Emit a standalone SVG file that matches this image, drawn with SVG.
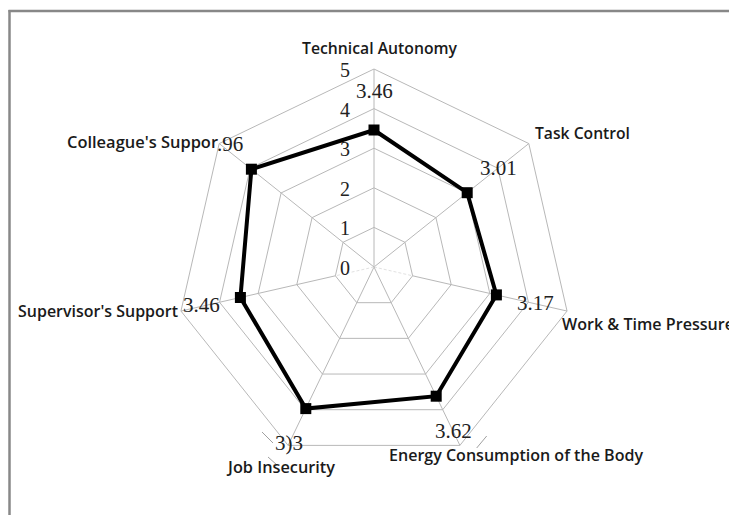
<svg xmlns="http://www.w3.org/2000/svg" width="729" height="515" viewBox="0 0 729 515">
<style>
.grid{fill:none;stroke:#b8b8b8;stroke-width:1}
.spoke{stroke:#b8b8b8;stroke-width:1}
.faint{stroke:#e2e2e2;stroke-width:1;stroke-dasharray:3 2}
.art{stroke:#a0a0a0;stroke-width:1}
.axis{font-family:"Liberation Serif","Times New Roman",serif;font-size:20px;fill:#222;text-anchor:end}
.val{font-family:"Liberation Serif","Times New Roman",serif;font-size:21px;fill:#222}
.cat{font-family:"Open Sans","Noto Sans","DejaVu Sans",sans-serif;font-size:15.5px;font-weight:600;fill:#1a1a1a}
.series{fill:none;stroke:#000;stroke-width:4;stroke-linejoin:miter}
.mk{fill:#000}
</style>
<rect width="729" height="515" fill="#fff"/>
<g id="frame" stroke="#888" stroke-width="2.5">
<line x1="8.5" y1="11" x2="729" y2="11"/>
<line x1="9.5" y1="10" x2="9.5" y2="515"/>
</g>
<g id="grid">
<polygon class="grid" points="374,69 528.8,143.55 567.04,311.06 459.91,445.39 288.09,445.39 180.96,311.06 219.2,143.55"/>
<polygon class="grid" points="374,108.6 497.84,168.24 528.43,302.25 442.73,409.71 305.27,409.71 219.57,302.25 250.16,168.24"/>
<polygon class="grid" points="374,148.2 466.88,192.93 489.82,293.44 425.55,374.04 322.45,374.04 258.18,293.44 281.12,192.93"/>
<polygon class="grid" points="374,187.8 435.92,217.62 451.21,284.62 408.36,338.36 339.64,338.36 296.79,284.62 312.08,217.62"/>
<polygon class="grid" points="374,227.4 404.96,242.31 412.61,275.81 391.18,302.68 356.82,302.68 335.39,275.81 343.04,242.31"/>
<line class="spoke" x1="374" y1="267" x2="374" y2="69"/>
<line class="spoke" x1="374" y1="267" x2="528.8" y2="143.55"/>
<line class="faint" x1="374" y1="267" x2="412.61" y2="275.81"/>
<line class="spoke" x1="412.61" y1="275.81" x2="567.04" y2="311.06"/>
<line class="spoke" x1="374" y1="267" x2="459.91" y2="445.39"/>
<line class="spoke" x1="374" y1="267" x2="288.09" y2="445.39"/>
<line class="faint" x1="374" y1="267" x2="335.39" y2="275.81"/>
<line class="spoke" x1="335.39" y1="275.81" x2="180.96" y2="311.06"/>
<line class="spoke" x1="374" y1="267" x2="219.2" y2="143.55"/>
<line class="art" x1="262" y1="432" x2="273" y2="443"/>
<line class="art" x1="268" y1="457" x2="277" y2="465"/>
<line class="art" x1="486.7" y1="436" x2="476.7" y2="448"/>
</g>
<g id="axis-labels">
<text class="axis" x="350" y="77">5</text>
<text class="axis" x="350" y="117">4</text>
<text class="axis" x="350" y="156">3</text>
<text class="axis" x="350" y="196">2</text>
<text class="axis" x="350" y="235">1</text>
<text class="axis" x="350" y="275">0</text>
</g>
<g id="connectors">
<polygon class="series" points="374,130 467.19,192.68 496.38,294.93 436.2,396.16 305.8,408.6 240.42,297.49 251.4,169.22"/>
</g>
<g id="markers">
<rect class="mk" x="368.5" y="124.5" width="11" height="11"/>
<rect class="mk" x="461.7" y="187.2" width="11" height="11"/>
<rect class="mk" x="490.9" y="289.4" width="11" height="11"/>
<rect class="mk" x="430.7" y="390.7" width="11" height="11"/>
<rect class="mk" x="300.3" y="403.1" width="11" height="11"/>
<rect class="mk" x="234.9" y="292" width="11" height="11"/>
<rect class="mk" x="245.9" y="163.7" width="11" height="11"/>
</g>
<g id="value-labels">
<text class="val" x="356" y="98">3.46</text>
<text class="val" x="480" y="175">3.01</text>
<text class="val" x="517" y="310">3.17</text>
<text class="val" x="435" y="438">3.62</text>
<text class="val" x="275" y="450">3)3</text>
<text class="val" x="183" y="312">3.46</text>
<text class="val" x="217" y="151">.96</text>
</g>
<g id="category-labels">
<g id="n-technical-autonomy"><text class="cat" x="302" y="54" textLength="155" lengthAdjust="spacingAndGlyphs">Technical Autonomy</text></g>
<g id="n-task-control"><text class="cat" x="535" y="139" textLength="95" lengthAdjust="spacingAndGlyphs">Task Control</text></g>
<g id="n-work-time"><text class="cat" x="562" y="330" textLength="172" lengthAdjust="spacingAndGlyphs">Work &amp; Time Pressure</text></g>
<g id="n-energy"><text class="cat" x="389" y="461" textLength="254" lengthAdjust="spacingAndGlyphs">Energy Consumption of the Body</text></g>
<g id="n-job"><text class="cat" x="228" y="473" textLength="107" lengthAdjust="spacingAndGlyphs">Job Insecurity</text></g>
<g id="n-supervisor"><text class="cat" x="18" y="317" textLength="160" lengthAdjust="spacingAndGlyphs">Supervisor's Support</text></g>
<g id="n-colleague"><text class="cat" x="67" y="148" textLength="151" lengthAdjust="spacingAndGlyphs">Colleague's Suppor</text></g>
</g>
</svg>
